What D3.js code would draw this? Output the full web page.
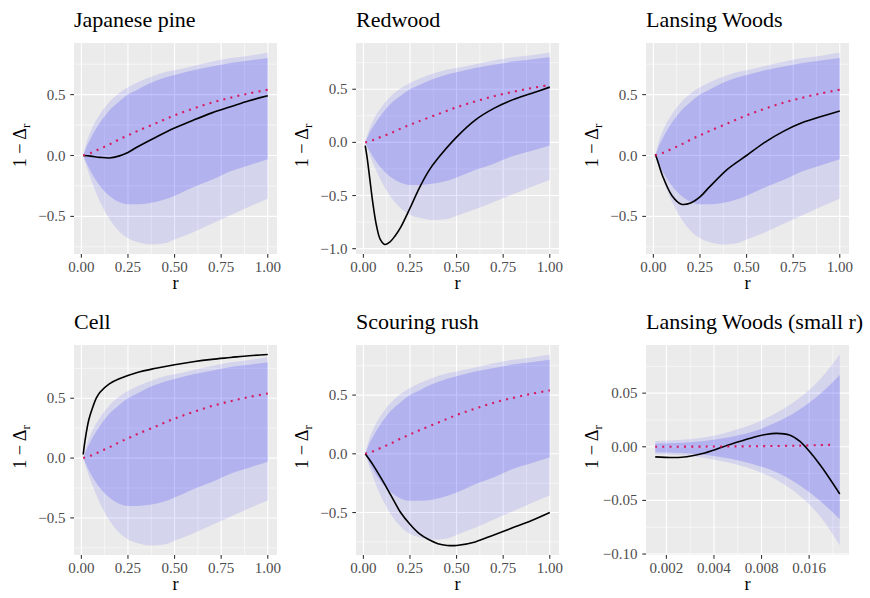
<!DOCTYPE html>
<html><head><meta charset="utf-8"><script src="https://cdn.jsdelivr.net/npm/d3@7"></script></head>
<body style="margin:0">
<svg id="s" width="870" height="598"></svg>
<script>
// ---------------- DATA ----------------
const titles = ["Japanese pine", "Redwood", "Lansing Woods", "Cell", "Scouring rush", "Lansing Woods (small r)"];

// shared envelope (panels 1-5)
const envR        = [0.01, 0.03, 0.05, 0.1, 0.15, 0.2, 0.25, 0.3, 0.37, 0.45, 0.5, 0.6, 0.7, 0.8, 0.9, 1.0];
const envOuterLow = [0, -0.10, -0.19, -0.38, -0.52, -0.62, -0.68, -0.71, -0.73, -0.72, -0.69, -0.63, -0.56, -0.49, -0.42, -0.355];
const envInnerLow = [0, -0.07, -0.13, -0.25, -0.33, -0.38, -0.40, -0.40, -0.39, -0.36, -0.33, -0.26, -0.20, -0.13, -0.08, -0.03];
const envInnerUp  = [0, 0.08, 0.14, 0.27, 0.37, 0.44, 0.50, 0.54, 0.595, 0.64, 0.66, 0.70, 0.73, 0.76, 0.78, 0.80];
const envOuterUp  = [0, 0.12, 0.20, 0.34, 0.44, 0.51, 0.56, 0.60, 0.645, 0.685, 0.70, 0.735, 0.77, 0.80, 0.82, 0.845];

// theoretical curve (panels 1-5)
const theoR   = [0.01, 0.05, 0.1, 0.15, 0.2, 0.25, 0.3, 0.4, 0.5, 0.6, 0.7, 0.8, 0.9, 1.0];
const theoVal = [0, 0.02, 0.055, 0.09, 0.13, 0.165, 0.2, 0.265, 0.33, 0.385, 0.435, 0.475, 0.51, 0.54];

// observed curves
const pineR   = [0.01, 0.05, 0.1, 0.15, 0.2, 0.25, 0.3, 0.4, 0.5, 0.6, 0.7, 0.8, 0.9, 1.0];
const pineVal = [0, -0.005, -0.015, -0.02, -0.005, 0.025, 0.07, 0.15, 0.225, 0.29, 0.35, 0.40, 0.45, 0.49];

const redR   = [0.01, 0.02, 0.035, 0.05, 0.07, 0.09, 0.115, 0.14, 0.17, 0.2, 0.25, 0.3, 0.35, 0.4, 0.5, 0.6, 0.7, 0.8, 0.9, 1.0];
const redVal = [-0.03, -0.14, -0.35, -0.56, -0.78, -0.91, -0.96, -0.94, -0.88, -0.80, -0.62, -0.43, -0.27, -0.15, 0.05, 0.21, 0.32, 0.40, 0.46, 0.52];

const lanR   = [0.01, 0.02, 0.05, 0.1, 0.15, 0.2, 0.25, 0.3, 0.4, 0.5, 0.6, 0.7, 0.8, 0.9, 1.0];
const lanVal = [0.01, -0.03, -0.17, -0.33, -0.40, -0.39, -0.34, -0.26, -0.11, 0.0, 0.11, 0.20, 0.27, 0.32, 0.365];

const cellR   = [0.01, 0.02, 0.04, 0.06, 0.08, 0.1, 0.15, 0.2, 0.3, 0.4, 0.5, 0.6, 0.7, 0.8, 0.9, 1.0];
const cellVal = [0.03, 0.15, 0.32, 0.42, 0.50, 0.55, 0.62, 0.66, 0.715, 0.75, 0.78, 0.805, 0.825, 0.84, 0.855, 0.865];

const rushR   = [0.01, 0.05, 0.1, 0.15, 0.2, 0.25, 0.3, 0.35, 0.4, 0.45, 0.5, 0.6, 0.7, 0.8, 0.9, 1.0];
const rushVal = [0, -0.09, -0.22, -0.36, -0.50, -0.60, -0.68, -0.73, -0.765, -0.78, -0.78, -0.75, -0.69, -0.63, -0.57, -0.50];

// small-r panel (log x)
const smallEnvR     = [0.0017, 0.0025, 0.0035, 0.005, 0.007, 0.01, 0.014, 0.019, 0.025];
const smallOuterLow = [-0.007, -0.008, -0.0105, -0.015, -0.021, -0.031, -0.046, -0.066, -0.092];
const smallInnerLow = [-0.005, -0.0058, -0.0075, -0.011, -0.016, -0.024, -0.036, -0.051, -0.0675];
const smallInnerUp  = [0.003, 0.0038, 0.0055, 0.009, 0.014, 0.023, 0.035, 0.05, 0.067];
const smallOuterUp  = [0.0053, 0.0065, 0.0088, 0.014, 0.021, 0.032, 0.046, 0.064, 0.086];
const smallTheoR    = [0.0017, 0.0035, 0.007, 0.014, 0.023];
const smallTheoVal  = [0.0, 0.0002, 0.0005, 0.0011, 0.0019];
const smallObsR     = [0.0017, 0.0025, 0.0035, 0.005, 0.007, 0.0085, 0.01, 0.012, 0.014, 0.016, 0.019, 0.025];
const smallObsVal   = [-0.0094, -0.0098, -0.0058, 0.002, 0.0085, 0.0115, 0.0125, 0.011, 0.005, -0.004, -0.018, -0.044];

// tick labels
const xTicksLinear = [0, 0.25, 0.5, 0.75, 1.0];
const xTicksLog    = [0.002, 0.004, 0.008, 0.016];
const yTicksStd    = [-0.5, 0.0, 0.5];
const yTicksRed    = [-1.0, -0.5, 0.0, 0.5];
const yTicksSmall  = [-0.10, -0.05, 0.00, 0.05];

// ---------------- PANELS ----------------
const env5 = {r: envR, ol: envOuterLow, il: envInnerLow, iu: envInnerUp, ou: envOuterUp};
const envS = {r: smallEnvR, ol: smallOuterLow, il: smallInnerLow, iu: smallInnerUp, ou: smallOuterUp};
const panels = [
  {env: env5, theo: [theoR, theoVal], obs: [pineR, pineVal], log: false, xt: xTicksLinear, xf: ".2f", yt: yTicksStd, yf: ".1f"},
  {env: env5, theo: [theoR, theoVal], obs: [redR, redVal], log: false, xt: xTicksLinear, xf: ".2f", yt: yTicksRed, yf: ".1f"},
  {env: env5, theo: [theoR, theoVal], obs: [lanR, lanVal], log: false, xt: xTicksLinear, xf: ".2f", yt: yTicksStd, yf: ".1f"},
  {env: env5, theo: [theoR, theoVal], obs: [cellR, cellVal], log: false, xt: xTicksLinear, xf: ".2f", yt: yTicksStd, yf: ".1f"},
  {env: env5, theo: [theoR, theoVal], obs: [rushR, rushVal], log: false, xt: xTicksLinear, xf: ".2f", yt: yTicksStd, yf: ".1f"},
  {env: envS, theo: [smallTheoR, smallTheoVal], obs: [smallObsR, smallObsVal], log: true, xt: xTicksLog, xf: ".3f", yt: yTicksSmall, yf: ".2f"}
];

// layout (panel rectangles)
const layout = [
  {x0: 74,  x1: 277, y0: 43,  y1: 254},
  {x0: 356, x1: 559, y0: 43,  y1: 254},
  {x0: 646, x1: 849, y0: 43,  y1: 254},
  {x0: 74,  x1: 277, y0: 345, y1: 555},
  {x0: 356, x1: 559, y0: 345, y1: 555},
  {x0: 646, x1: 849, y0: 345, y1: 555}
];

const svg = d3.select("#s");
const BG = "#EBEBEB";
const labels = [];   // texts drawn last, on top

panels.forEach((p, i) => {
  const L = layout[i];
  const allR = p.env.r.concat(p.theo[0], p.obs[0]);
  const allY = p.env.ol.concat(p.env.ou, p.env.il, p.env.iu, p.theo[1], p.obs[1]);
  let x;
  if (p.log) {
    const lo = Math.log10(d3.min(allR)), hi = Math.log10(d3.max(allR));
    const pad = (hi - lo) * 0.05;
    x = d3.scaleLog().domain([Math.pow(10, lo - pad), Math.pow(10, hi + pad)]).range([L.x0, L.x1]);
  } else {
    const lo = d3.min(allR), hi = d3.max(allR), pad = (hi - lo) * 0.05;
    x = d3.scaleLinear().domain([lo - pad, hi + pad]).range([L.x0, L.x1]);
  }
  const ylo = d3.min(allY), yhi = d3.max(allY), ypad = (yhi - ylo) * 0.05;
  const y = d3.scaleLinear().domain([ylo - ypad, yhi + ypad]).range([L.y1, L.y0]);

  svg.append("rect").attr("x", L.x0).attr("y", L.y0).attr("width", L.x1 - L.x0).attr("height", L.y1 - L.y0).attr("fill", BG);

  const [xd0, xd1] = x.domain();
  const [yd0, yd1] = y.domain();
  let xMinor = [];
  if (p.log) {
    const ext = [p.xt[0] / 2].concat(p.xt, [p.xt[p.xt.length - 1] * 2]);
    for (let k = 0; k < ext.length - 1; k++) xMinor.push(Math.sqrt(ext[k] * ext[k + 1]));
  } else {
    const st = p.xt[1] - p.xt[0];
    const ext = [p.xt[0] - st].concat(p.xt, [p.xt[p.xt.length - 1] + st]);
    for (let k = 0; k < ext.length - 1; k++) xMinor.push((ext[k] + ext[k + 1]) / 2);
  }
  xMinor = xMinor.filter(v => v >= xd0 && v <= xd1);
  const yst = p.yt[1] - p.yt[0];
  const yext = [p.yt[0] - yst].concat(p.yt, [p.yt[p.yt.length - 1] + yst]);
  let yMinor = [];
  for (let k = 0; k < yext.length - 1; k++) yMinor.push((yext[k] + yext[k + 1]) / 2);
  yMinor = yMinor.filter(v => v >= yd0 && v <= yd1);

  xMinor.forEach(d => svg.append("line").attr("x1", x(d)).attr("x2", x(d)).attr("y1", L.y0).attr("y2", L.y1)
    .attr("stroke", "#fff").attr("stroke-width", 0.55));
  yMinor.forEach(d => svg.append("line").attr("y1", y(d)).attr("y2", y(d)).attr("x1", L.x0).attr("x2", L.x1)
    .attr("stroke", "#fff").attr("stroke-width", 0.55));
  p.xt.forEach(d => svg.append("line").attr("x1", x(d)).attr("x2", x(d)).attr("y1", L.y0).attr("y2", L.y1)
    .attr("stroke", "#fff").attr("stroke-width", 1.1));
  p.yt.forEach(d => svg.append("line").attr("y1", y(d)).attr("y2", y(d)).attr("x1", L.x0).attr("x2", L.x1)
    .attr("stroke", "#fff").attr("stroke-width", 1.1));

  const envData = p.env.r.map((r, k) => ({r, ol: p.env.ol[k], il: p.env.il[k], iu: p.env.iu[k], ou: p.env.ou[k]}));
  const areaOuter = d3.area().x(d => x(d.r)).y0(d => y(d.ol)).y1(d => y(d.ou)).curve(d3.curveMonotoneX);
  const areaInner = d3.area().x(d => x(d.r)).y0(d => y(d.il)).y1(d => y(d.iu)).curve(d3.curveMonotoneX);
  svg.append("path").datum(envData).attr("d", areaOuter).attr("fill", "#0000FF").attr("fill-opacity", 0.095);
  svg.append("path").datum(envData).attr("d", areaInner).attr("fill", "#0000FF").attr("fill-opacity", 0.16);

  const line = d3.line().x(d => x(d[0])).y(d => y(d[1])).curve(d3.curveCatmullRom.alpha(0.5));
  const obs = p.obs[0].map((r, k) => [r, p.obs[1][k]]);
  svg.append("path").datum(obs).attr("d", line).attr("fill", "none")
    .attr("stroke", "#000").attr("stroke-width", 1.6);
  const theo = p.theo[0].map((r, k) => [r, p.theo[1][k]]);
  svg.append("path").datum(theo).attr("d", line).attr("fill", "none")
    .attr("stroke", "#D7195E").attr("stroke-width", 2.1).attr("stroke-dasharray", "2,5.2");

  const tickCol = "#333333";
  const fx = d3.format(p.xf), fy = d3.format(p.yf);
  p.xt.forEach(d => {
    svg.append("line").attr("x1", x(d)).attr("x2", x(d)).attr("y1", L.y1).attr("y2", L.y1 + 3.7)
      .attr("stroke", tickCol).attr("stroke-width", 1.1);
    labels.push({x: x(d), y: L.y1 + 17.5, anchor: "middle", size: 15, fill: "#4D4D4D", t: fx(d)});
  });
  p.yt.forEach(d => {
    svg.append("line").attr("y1", y(d)).attr("y2", y(d)).attr("x1", L.x0 - 3.7).attr("x2", L.x0)
      .attr("stroke", tickCol).attr("stroke-width", 1.1);
    labels.push({x: L.x0 - 8.5, y: y(d) + 5, anchor: "end", size: 15, fill: "#4D4D4D", t: fy(d)});
  });
  labels.push({x: (L.x0 + L.x1) / 2, y: L.y1 + 35, anchor: "middle", size: 18.3, fill: "#000", t: "r"});
  labels.push({x: L.x0, y: L.y0 - 16.5, anchor: "start", size: 22, fill: "#000", t: titles[i]});
  labels.push({ytitle: true, x: L.x0 - 48, y: (L.y0 + L.y1) / 2 - 3});
});

labels.forEach(l => {
  if (l.ytitle) {
    const t = svg.append("text")
      .attr("transform", `translate(${l.x},${l.y}) rotate(-90)`)
      .attr("text-anchor", "middle").attr("font-size", "18.3px")
      .style("font-family", "'Liberation Serif'");
    t.append("tspan").style("font-family", "'Liberation Serif'").text("1 \u2212  \u0394");
    t.append("tspan").style("font-family", "'Liberation Serif'").attr("font-size", "13px").attr("dy", "4").text("r");
  } else {
    svg.append("text").attr("x", l.x).attr("y", l.y).attr("font-size", l.size + "px")
      .style("font-family", "'Liberation Serif'")
      .attr("text-anchor", l.anchor).attr("fill", l.fill).text(l.t);
  }
});
</script></body></html>
